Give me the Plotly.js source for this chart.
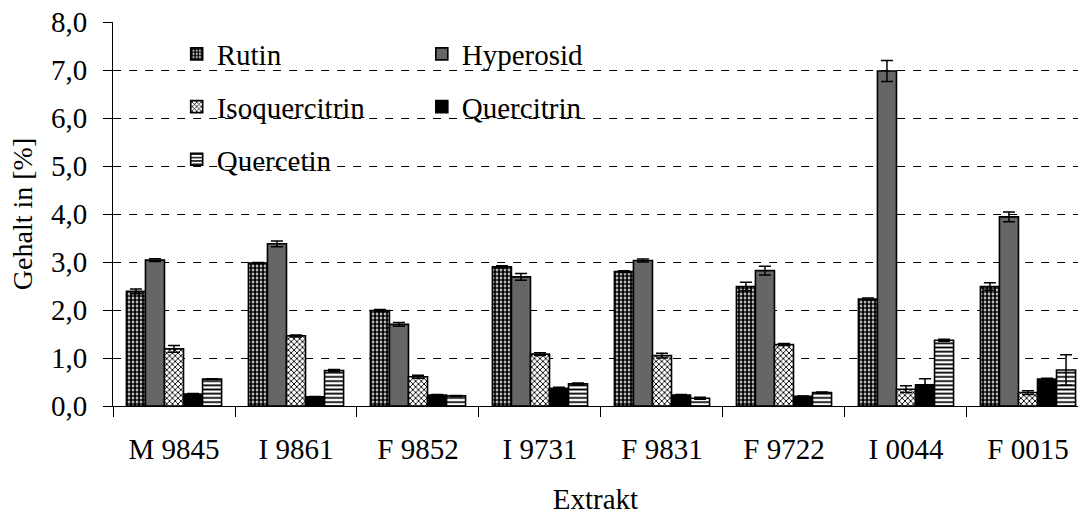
<!DOCTYPE html>
<html>
<head>
<meta charset="utf-8">
<script src="https://cdn.plot.ly/plotly-3.0.1.min.js"></script>
<style>html,body{margin:0;padding:0;background:#fff;}#chart{width:1078px;height:515px;}</style>
</head>
<body>
<div id="chart"></div>
<script>
const categories = ["M 9845", "I 9861", "F 9852", "I 9731", "F 9831", "F 9722", "I 0044", "F 0015"];

const rutin        = [2.39, 2.98, 1.99, 2.90, 2.80, 2.49, 2.23, 2.49];
const rutinErr     = [0.05, 0.01, 0.02, 0.02, 0.02, 0.09, 0.02, 0.08];
const hyperosid    = [3.04, 3.38, 1.70, 2.69, 3.03, 2.82, 6.98, 3.94];
const hyperosidErr = [0.03, 0.06, 0.04, 0.07, 0.03, 0.09, 0.22, 0.10];
const isoquercitrin    = [1.19, 1.46, 0.61, 1.08, 1.05, 1.28, 0.35, 0.28];
const isoquercitrinErr = [0.07, 0.02, 0.03, 0.03, 0.05, 0.02, 0.07, 0.04];
const quercitrin    = [0.25, 0.19, 0.23, 0.37, 0.23, 0.20, 0.44, 0.56];
const quercitrinErr = [0.01, 0.01, 0.01, 0.02, 0.01, 0.01, 0.13, 0.02];
const quercetin    = [0.56, 0.74, 0.21, 0.46, 0.16, 0.28, 1.37, 0.75];
const quercetinErr = [0.01, 0.02, 0.01, 0.02, 0.02, 0.01, 0.02, 0.32];

const seriesNames = ["Rutin", "Hyperosid", "Isoquercitrin", "Quercitrin", "Quercetin"];
const yTicks = [0, 1, 2, 3, 4, 5, 6, 7, 8];

const FONT = "Liberation Serif";
const line = {color: "#000", width: 1.6};
function err(a) {
  return {type: "data", array: a, visible: true, color: "#000", thickness: 1.5, width: 6};
}

const traces = [
  {name: seriesNames[0], y: rutin, error_y: err(rutinErr), legend: "legend", legendgroup: "a",
   marker: {color: "#fff", line: line, pattern: {shape: ".", size: 4, solidity: 0.7, fgcolor: "#000", bgcolor: "#fff"}}},
  {name: seriesNames[1], y: hyperosid, error_y: err(hyperosidErr), legend: "legend2", legendgroup: "b",
   marker: {color: "#666666", line: line}},
  {name: seriesNames[2], y: isoquercitrin, error_y: err(isoquercitrinErr), legend: "legend", legendgroup: "c",
   marker: {color: "#fff", line: line, pattern: {shape: "x", size: 4, solidity: 0.4, fgcolor: "#000", bgcolor: "#fff"}}},
  {name: seriesNames[3], y: quercitrin, error_y: err(quercitrinErr), legend: "legend2", legendgroup: "d",
   marker: {color: "#000", line: line}},
  {name: seriesNames[4], y: quercetin, error_y: err(quercetinErr), legend: "legend", legendgroup: "e",
   marker: {color: "#fff", line: line, pattern: {shape: "-", size: 4.2, solidity: 0.42, fgcolor: "#000", bgcolor: "#fff"}}}
].map(t => Object.assign({type: "bar", x: categories}, t));

const legendBase = {
  orientation: "v", xref: "paper", yref: "paper", xanchor: "left", yanchor: "top",
  bgcolor: "rgba(0,0,0,0)", borderwidth: 0, tracegroupgap: 12,
  font: {family: FONT, size: 29, color: "#000"}
};

const layout = {
  width: 1078, height: 515,
  margin: {l: 113, r: 0, t: 22, b: 109},
  paper_bgcolor: "#fff", plot_bgcolor: "#fff",
  font: {family: FONT, size: 29, color: "#000"},
  separators: ", ",
  barmode: "group", bargap: 0.22, bargroupgap: 0,
  showlegend: true,
  legend: Object.assign({}, legendBase, {x: 0.066, y: 0.983}),
  legend2: Object.assign({}, legendBase, {x: 0.32, y: 0.983}),
  xaxis: {
    type: "category", range: [-0.5, 7.41],
    showline: true, linecolor: "#000", linewidth: 1,
    ticks: "outside", tickson: "boundaries", ticklen: 10, tickcolor: "#000", tickwidth: 1,
    ticklabelstandoff: 17,
    showgrid: false, zeroline: false,
    tickfont: {family: FONT, size: 29, color: "#000"},
    title: {text: "Extrakt", font: {family: FONT, size: 29, color: "#000"}, standoff: 31}
  },
  yaxis: {
    range: [0, 8], tickvals: yTicks, tickformat: ".1f",
    showline: true, linecolor: "#000", linewidth: 1,
    ticks: "outside", ticklen: 9, tickcolor: "#000", tickwidth: 1,
    ticklabelstandoff: 10,
    showgrid: true, gridcolor: "#000", gridwidth: 1, griddash: "8px,8px",
    zeroline: false,
    tickfont: {family: FONT, size: 29, color: "#000"},
    title: {text: "Gehalt in [%]", font: {family: FONT, size: 28, color: "#000"}, standoff: 10}
  }
};

Plotly.newPlot("chart", traces, layout, {displayModeBar: false, staticPlot: true});
</script>
</body>
</html>
